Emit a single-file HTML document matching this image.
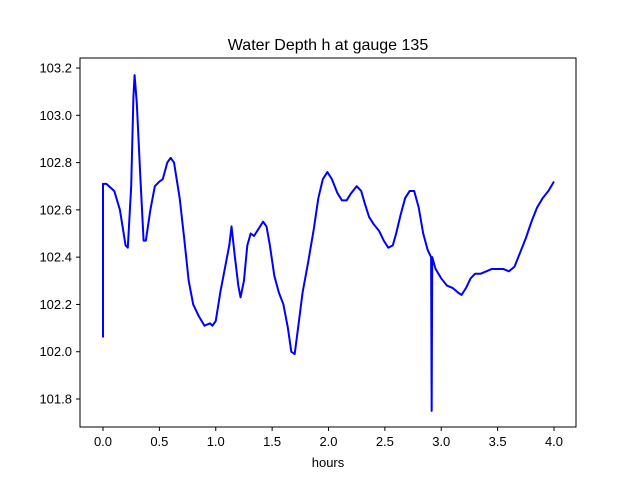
<!DOCTYPE html>
<html><head><meta charset="utf-8"><style>
body{margin:0;background:#fff}
svg text{font-family:"Liberation Sans","DejaVu Sans",sans-serif;fill:#000}
</style></head><body>
<svg id="chart" width="640" height="480">
<rect width="640" height="480" fill="#fff"/>
<text x="328" y="50" font-size="16" text-anchor="middle">Water Depth h at gauge 135</text>
<g id="xt"></g>
<g id="yt"></g>
<polyline id="line" fill="none" stroke="#0000ff" stroke-width="2" stroke-linejoin="round"/>
<rect x="80" y="58" width="496" height="369" fill="none" stroke="#000" stroke-width="1"/>
<text x="328" y="467" font-size="13" text-anchor="middle">hours</text>
</svg>
<script>
const times=[0,0,0.03,0.1,0.15,0.2,0.22,0.25,0.27,0.28,0.3,0.33,0.36,0.38,0.42,0.46,0.5,0.53,0.57,0.6,0.63,0.68,0.72,0.76,0.8,0.85,0.9,0.95,0.97,1.0,1.04,1.08,1.12,1.14,1.17,1.2,1.22,1.25,1.28,1.31,1.34,1.38,1.42,1.45,1.48,1.52,1.56,1.6,1.64,1.67,1.7,1.73,1.77,1.82,1.87,1.91,1.95,1.99,2.03,2.08,2.12,2.16,2.2,2.25,2.29,2.32,2.36,2.4,2.45,2.49,2.53,2.57,2.6,2.64,2.68,2.72,2.76,2.8,2.84,2.88,2.91,2.915,2.92,2.95,3.0,3.05,3.1,3.15,3.18,3.22,3.26,3.3,3.35,3.4,3.45,3.55,3.6,3.65,3.7,3.75,3.8,3.85,3.9,3.95,4.0];
const depths=[102.06,102.71,102.71,102.68,102.6,102.45,102.44,102.7,103.08,103.17,103.05,102.75,102.47,102.47,102.6,102.7,102.72,102.73,102.8,102.82,102.8,102.65,102.48,102.3,102.2,102.15,102.11,102.12,102.11,102.13,102.25,102.35,102.45,102.53,102.4,102.28,102.23,102.3,102.45,102.5,102.49,102.52,102.55,102.53,102.45,102.32,102.25,102.2,102.1,102.0,101.99,102.1,102.25,102.38,102.52,102.65,102.73,102.76,102.73,102.67,102.64,102.64,102.67,102.7,102.68,102.63,102.57,102.54,102.51,102.47,102.44,102.45,102.5,102.58,102.65,102.68,102.68,102.61,102.5,102.43,102.4,101.75,102.4,102.35,102.31,102.28,102.27,102.25,102.24,102.27,102.31,102.33,102.33,102.34,102.35,102.35,102.34,102.36,102.42,102.48,102.55,102.61,102.65,102.68,102.72];
const xTicks=[0,0.5,1,1.5,2,2.5,3,3.5,4];
const yTicks=[101.8,102.0,102.2,102.4,102.6,102.8,103.0,103.2];
const sx=t=>103+t*112.75;
const sy=h=>399-(h-101.8)*236.4;
const NS="http://www.w3.org/2000/svg";
const xt=document.getElementById('xt'),yt=document.getElementById('yt');
xTicks.forEach(v=>{
 const l=document.createElementNS(NS,'line');
 l.setAttribute('x1',sx(v));l.setAttribute('x2',sx(v));l.setAttribute('y1',427);l.setAttribute('y2',431);l.setAttribute('stroke','#000');
 
 
 xt.appendChild(l);
 const t=document.createElementNS(NS,'text');
 t.setAttribute('x',sx(v));t.setAttribute('y',446);t.setAttribute('font-size','13');t.setAttribute('text-anchor','middle');
 t.textContent=v.toFixed(1);
 
 
 xt.appendChild(t);
});
yTicks.forEach(v=>{
 const l=document.createElementNS(NS,'line');
 l.setAttribute('x1',76);l.setAttribute('x2',80);l.setAttribute('y1',sy(v));l.setAttribute('y2',sy(v));l.setAttribute('stroke','#000');
 
 
 yt.appendChild(l);
 const t=document.createElementNS(NS,'text');
 t.setAttribute('x',72);t.setAttribute('y',sy(v)+4.5);t.setAttribute('font-size','13');t.setAttribute('text-anchor','end');
 t.textContent=v.toFixed(1);
 
 
 yt.appendChild(t);
});
document.getElementById('line').setAttribute('points',times.map((t,i)=>sx(t)+','+sy(depths[i])).join(' '));
</script>
</body></html>
